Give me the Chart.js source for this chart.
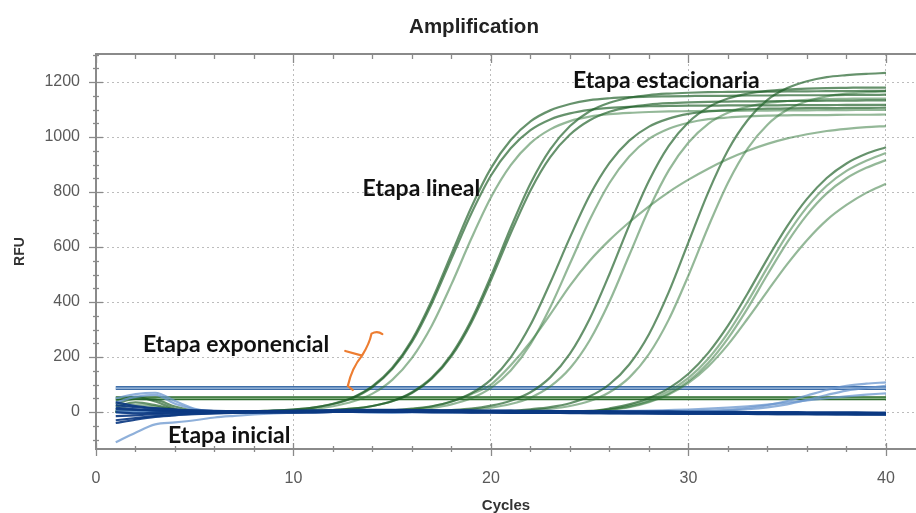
<!DOCTYPE html>
<html><head><meta charset="utf-8">
<script src="https://cdn.jsdelivr.net/npm/chart.js@4.4.0/dist/chart.umd.min.js"></script>
<style>html,body{margin:0;padding:0;background:#fff;overflow:hidden}canvas{display:block}</style>
</head><body>
<canvas id="c" width="916" height="513"></canvas>
<script>
// ---------- DATA ----------
const cycles = [1,2,3,4,5,6,7,8,9,10,11,12,13,14,15,16,17,18,19,20,21,22,23,24,25,26,27,28,29,30,31,32,33,34,35,36,37,38,39,40];

// amplification curves (green)
const g1a = [42,55,38,12,2,-1,1,3,5,9, 16,30,53,94,161,263,406,575,744,887, 989,1057,1097,1120,1134,1141,1145,1147,1148,1149, 1150,1150,1151,1151,1152,1152,1152,1153,1153,1154];
const g1b = [20,35,25,8,0,1,-2,3,5,9, 16,29,51,91,156,255,394,558,721,860, 959,1025,1064,1086,1099,1106,1110,1112,1113,1114, 1114,1115,1115,1115,1116,1116,1116,1117,1117,1117];
const g1c = [5,8,4,2,0,1,3,2,4,6, 11,21,38,67,117,197,314,465,630,781, 898,978,1028,1058,1074,1083,1088,1091,1093,1094, 1095,1095,1096,1096,1097,1097,1098,1098,1099,1099];
const g2a = [30,48,45,20,5,0,-2,1,2,3, 4,7,12,22,39,69,121,203,324,480, 650,806,927,1009,1061,1092,1109,1118,1123,1126, 1128,1129,1130,1130,1131,1131,1132,1132,1133,1133];
const g2b = [0,3,5,2,0,1,2,1,3,3, 5,7,12,22,40,72,125,210,334,495, 670,831,955,1040,1094,1125,1143,1153,1158,1161, 1163,1164,1165,1165,1166,1166,1167,1167,1168,1168];
const g3a = [0,2,1,0,-1,2,1,0,2,3, 1,2,3,4,6,12,21,38,68,118, 199,317,470,635,788,906,987,1038,1067,1084, 1093,1098,1101,1103,1104,1105,1105,1106,1106,1107];
const g3b = [3,1,0,2,1,0,1,2,0,1, 3,2,3,4,5,8,15,28,50,88, 151,247,381,540,699,833,929,993,1030,1052, 1065,1071,1075,1078,1079,1080,1080,1081,1081,1082];
const g3flat = [10,25,20,8,2,0,1,0,2,1, 2,3,3,4,5,10,20,38,65,100, 170,255,355,460,550,625,690,748,800,845, 885,920,950,975,995,1010,1022,1030,1036,1040];
const g4a = [0,1,2,0,1,2,0,1,2,1, 0,2,3,1,2,3,4,7,12,23, 41,72,126,212,339,502,679,841,968,1054, 1108,1140,1158,1168,1173,1176,1178,1179,1180,1180];
const g4b = [2,0,1,3,0,1,2,0,1,3, 2,1,0,2,3,2,4,5,9,16, 29,52,93,159,261,402,570,738,879,980, 1048,1088,1110,1124,1131,1135,1138,1139,1140,1140];
const g5a = [1,0,2,1,0,-1,0,1,2,0, 1,2,1,0,1,2,1,2,3,2, 4,10,18,32,57,101,173,283,436,618, 799,952,1062,1135,1178,1203,1218,1225,1230,1233];
const g5b = [0,1,0,2,1,0,1,0,2,1, 0,1,2,1,0,2,1,3,2,3, 3,7,12,22,40,72,125,211,336,497, 673,834,959,1045,1099,1130,1148,1158,1163,1166];
const g6a = [1,0,1,2,0,1,0,2,1,0, 1,2,0,1,2,1,0,1,2,1, 2,1,2,3,4,13,28,51,86,139, 215,314,432,558,676,775,851,904,939,963];
const g6b = [0,2,1,0,1,2,1,0,1,2, 0,1,2,1,0,1,2,1,0,1, 2,1,2,2,3,10,23,44,76,124, 194,288,402,526,645,745,823,877,914,942];
const g6c = [1,1,0,2,1,0,2,1,0,1, 2,1,0,1,2,0,1,2,1,0, 1,2,1,2,2,8,19,38,67,112, 178,268,378,500,617,717,795,850,888,916];
const g6d = [2,0,1,1,0,2,1,0,1,2, 1,0,2,1,0,1,2,1,0,2, 1,2,2,1,2,8,18,36,64,106, 166,245,340,440,538,625,698,753,797,830];

// negative / baseline curves (blue)
const d1 = [-30,-22,-15,-10,-6,-4,-2,0,1,2, 3,4,5,5,4,3,2,2,1,0, -1,-1,-2,-2,-3,-3,-4,-4,-5,-5, -5,-6,-6,-6,-7,-7,-6,-7,-7,-8];
const d2 = [25,18,12,8,5,3,2,1,0,-1, -1,0,1,2,3,4,4,3,3,2, 2,1,1,0,0,-1,-1,-2,-2,-3, -3,-3,-4,-4,-4,-5,-5,-5,-6,-6];
const d3 = [-15,-12,-8,-5,-3,-2,-1,-1,0,0, 1,1,2,2,1,1,0,0,-1,-1, -2,-2,-3,-3,-4,-4,-4,-5,-5,-6, -6,-7,-7,-8,-8,-8,-9,-9,-10,-10];
const d4 = [10,8,5,3,2,1,1,2,2,3, 4,5,6,7,7,6,6,5,5,4, 4,3,3,2,2,1,1,0,0,-1, -1,-1,-2,-2,-2,-3,-3,-3,-3,-4];
const d5 = [-40,-28,-18,-12,-8,-5,-3,-2,-1,0, 0,1,1,1,0,0,-1,-1,-2,-2, -3,-3,-3,-4,-4,-5,-5,-5,-6,-6, -6,-7,-7,-7,-8,-8,-8,-9,-9,-9];
const d6 = [35,22,14,9,6,4,3,3,4,5, 6,7,8,8,8,7,7,6,6,5, 5,4,4,3,3,3,2,2,2,1, 1,1,0,0,0,-1,-1,-1,-2,-2];
const d7 = [0,-5,-3,-2,-1,0,0,-1,-2,-2, -1,0,1,1,2,2,1,1,0,0, -1,-1,-2,-2,-2,-3,-3,-3,-4,-4, -4,-4,-5,-5,-5,-5,-6,-6,-6,-6];
const d8 = [15,10,6,4,2,1,0,0,1,1, 2,3,3,4,4,3,3,2,2,1, 1,0,0,-1,-1,-1,-2,-2,-2,-3, -3,-3,-3,-4,-4,-4,-4,-5,-5,-5];
const lb1 = [-110,-75,-45,-38,-30,-20,-14,-9,-5,-2, 0,1,0,-1,-1,0,1,1,0,0, -1,-1,0,0,-1,-1,-2,-2,-2,-3, -3,-3,-4,-4,-4,-5,-5,-5,-5,-5];
const lb2 = [50,65,70,40,12,3,0,-1,0,1, 1,0,0,-1,-1,0,0,1,1,0, 0,-1,-1,-1,-2,-2,-2,-3,-3,-3, -3,-4,-4,-4,-4,-5,-5,-5,-5,-5];
const lb3 = [35,55,62,30,10,2,0,0,1,1, 0,0,1,1,0,0,-1,-1,0,0, -1,-1,-2,-2,-2,-2,-3,-3,-3,-3, -4,-4,-4,-4,-5,-5,-5,-5,-6,-6];
const lb4 = [2,0,-1,0,1,0,0,-1,0,1, 0,0,1,0,-1,0,0,1,0,0, -1,0,0,1,1,2,2,3,3,4, 5,8,15,25,40,60,80,95,103,108];
const lb5 = [-3,-2,-1,0,0,1,1,0,0,-1, -1,0,0,1,1,0,0,-1,-1,0, 0,1,1,2,2,3,4,5,7,9, 12,16,21,27,34,42,50,57,63,68];
const lb6 = [5,3,2,1,0,0,-1,-1,0,0, 1,1,0,0,-1,-1,0,0,1,1, 0,0,-1,-1,0,0,1,1,2,3, 4,6,10,17,28,44,62,78,88,95];

// thresholds
const thresholdBlue = 87;
const thresholdGreen = 50;
const thresholdCycles = [1, 40];

// axis ticks
const xTickValues = [0, 10, 20, 30, 40];
const yTickValues = [0, 200, 400, 600, 800, 1000, 1200];

// text annotations [text, cycle, RFU]
const annotations = [
  ['Etapa estacionaria', 24.15, 1207],
  ['Etapa lineal', 13.5, 811],
  ['Etapa exponencial', 2.38, 247],
  ['Etapa inicial', 3.65, -87]
];
// orange brace in data coordinates [cycle, RFU]
const braceHook = [[14.5,283],[14.25,297],[13.95,285]];
const braceMid = [13.47,205];
const braceProng = [12.62,222];
const braceFoot = [[12.75,95],[13.0,80]];

// ---------- BUILD ----------
const toXY = arr => arr.map((v, i) => ({x: cycles[i], y: v}));
const darkG = 'rgba(30,95,38,0.68)';
const lightG = 'rgba(50,118,58,0.52)';
const darkB = 'rgba(12,58,130,0.92)';
const lightB = 'rgba(105,150,205,0.75)';

const greens = [[g1a,darkG],[g1b,darkG],[g1c,lightG],[g2a,darkG],[g2b,darkG],[g3a,darkG],[g3b,lightG],[g3flat,lightG],
  [g4a,darkG],[g4b,lightG],[g5a,darkG],[g5b,lightG],[g6a,darkG],[g6b,lightG],[g6c,lightG],[g6d,lightG]];
const blues = [[d1,darkB],[d2,darkB],[d3,darkB],[d4,darkB],[d5,darkB],[d6,darkB],[d7,darkB],[d8,darkB],
  [lb1,lightB],[lb2,lightB],[lb3,lightB],[lb4,lightB],[lb5,lightB],[lb6,lightB]];

const datasets = [];
blues.forEach(([arr, col]) => datasets.push({data: toXY(arr), borderColor: col, borderWidth: 2.2, order: 1}));
greens.forEach(([arr, col]) => datasets.push({data: toXY(arr), borderColor: col, borderWidth: 2.2, order: 2}));
const thrLine = (val, col, w, ord) => ({data: thresholdCycles.map(c => ({x: c, y: val})), borderColor: col, borderWidth: w, order: ord, cubicInterpolationMode: 'default', tension: 0});
datasets.push(thrLine(thresholdBlue, '#a9c3e2', 1.2, 3));
datasets.push(thrLine(thresholdBlue, '#3f6ea8', 4, 4));
datasets.push(thrLine(thresholdGreen, '#9cc49c', 1.2, 3));
datasets.push(thrLine(thresholdGreen, '#2d6b2d', 4, 4));

const deco = {
  id: 'deco',
  afterDraw(chart) {
    const {ctx, chartArea: a, scales: {x, y}} = chart;
    const P = ([c, v]) => [x.getPixelForValue(c), y.getPixelForValue(v)];
    ctx.save();
    ctx.strokeStyle = '#8a8a8a';
    // top frame
    ctx.lineWidth = 2;
    ctx.beginPath(); ctx.moveTo(a.left, a.top); ctx.lineTo(a.right, a.top); ctx.stroke();
    ctx.lineWidth = 1.3;
    for (let v = 0; v <= x.max; v += 2) {
      const px = Math.round(x.getPixelForValue(v)) + 0.5;
      const major = v % 10 === 0;
      ctx.beginPath(); ctx.moveTo(px, a.bottom - (major ? 6 : 3)); ctx.lineTo(px, a.bottom + (major ? 7 : 3)); ctx.stroke();
      ctx.beginPath(); ctx.moveTo(px, a.top); ctx.lineTo(px, a.top + (major ? 9 : 5)); ctx.stroke();
    }
    for (let v = -100; v <= y.max; v += 50) {
      const py = Math.round(y.getPixelForValue(v)) + 0.5;
      const major = v % 200 === 0;
      ctx.beginPath(); ctx.moveTo(a.left - (major ? 7 : 3), py); ctx.lineTo(a.left + (major ? 7 : 3), py); ctx.stroke();
    }
    // title
    ctx.fillStyle = '#222';
    ctx.font = 'bold 20.5px "Liberation Sans", Arial, sans-serif';
    ctx.textAlign = 'center'; ctx.textBaseline = 'middle';
    ctx.fillText('Amplification', 474, 27);
    // brace
    ctx.strokeStyle = '#ED7D31'; ctx.lineWidth = 2.2; ctx.lineJoin = 'round'; ctx.lineCap = 'round';
    const h0 = P(braceHook[0]), h1 = P(braceHook[1]), h2 = P(braceHook[2]);
    const m = P(braceMid), pr = P(braceProng), f0 = P(braceFoot[0]), f1 = P(braceFoot[1]);
    ctx.beginPath();
    ctx.moveTo(h0[0], h0[1]);
    ctx.quadraticCurveTo(h1[0], h1[1], h2[0], h2[1]);
    ctx.quadraticCurveTo(h2[0] - 2, m[1] - 12, m[0], m[1]);
    ctx.lineTo(pr[0], pr[1]);
    ctx.moveTo(m[0], m[1]);
    ctx.quadraticCurveTo(m[0] - 10, m[1] + 12, f0[0], f0[1]);
    ctx.lineTo(f1[0], f1[1]);
    ctx.stroke();
    // annotations
    ctx.fillStyle = '#111';
    ctx.font = 'bold 23px Lato, "Open Sans", sans-serif';
    ctx.textAlign = 'left'; ctx.textBaseline = 'middle';
    annotations.forEach(([t, c, v]) => { const p = P([c, v]); ctx.fillText(t, p[0], p[1]); });
    ctx.restore();
  }
};

new Chart(document.getElementById('c'), {
  type: 'line',
  data: {datasets},
  options: {
    responsive: false, animation: false, devicePixelRatio: 1,
    layout: {padding: {top: 54, right: 0, left: 0, bottom: 0}},
    elements: {point: {radius: 0}, line: {cubicInterpolationMode: 'monotone', fill: false}},
    plugins: {legend: {display: false}, tooltip: {enabled: false}, title: {display: false}},
    scales: {
      x: {
        type: 'linear', min: 0, max: 41.52,
        afterFit: s => { s.height = 64; },
        afterBuildTicks: s => { s.ticks = xTickValues.map(v => ({value: v})); },
        ticks: {padding: 20, color: '#5a5a5a', font: {size: 16, family: '"Liberation Sans", Arial, sans-serif'}, maxRotation: 0, callback: v => String(v)},
        grid: {drawTicks: false, color: c => (c.tick && c.tick.value === 0) ? 'rgba(0,0,0,0)' : '#bcbcbc', lineWidth: 1},
        border: {display: true, color: '#8a8a8a', width: 2, dash: [2, 3]},
        title: {display: true, text: 'Cycles', color: '#333', font: {size: 15, weight: 'bold', family: '"Liberation Sans", Arial, sans-serif'}, padding: {top: 0, bottom: -2}}
      },
      y: {
        type: 'linear', min: -134.5, max: 1302,
        afterFit: s => { s.width = 96; },
        afterBuildTicks: s => { s.ticks = yTickValues.map(v => ({value: v})); },
        ticks: {padding: 16, color: '#5a5a5a', font: {size: 16, family: '"Liberation Sans", Arial, sans-serif'}, callback: v => String(v)},
        grid: {drawTicks: false, color: '#bcbcbc', lineWidth: 1},
        border: {display: true, color: '#8a8a8a', width: 2, dash: [2, 3]},
        title: {display: true, text: 'RFU', color: '#333', font: {size: 14, weight: 'bold', family: '"Liberation Sans", Arial, sans-serif'}, padding: {top: 12, bottom: 0}}
      }
    }
  },
  plugins: [deco]
});
</script>
</body></html>
